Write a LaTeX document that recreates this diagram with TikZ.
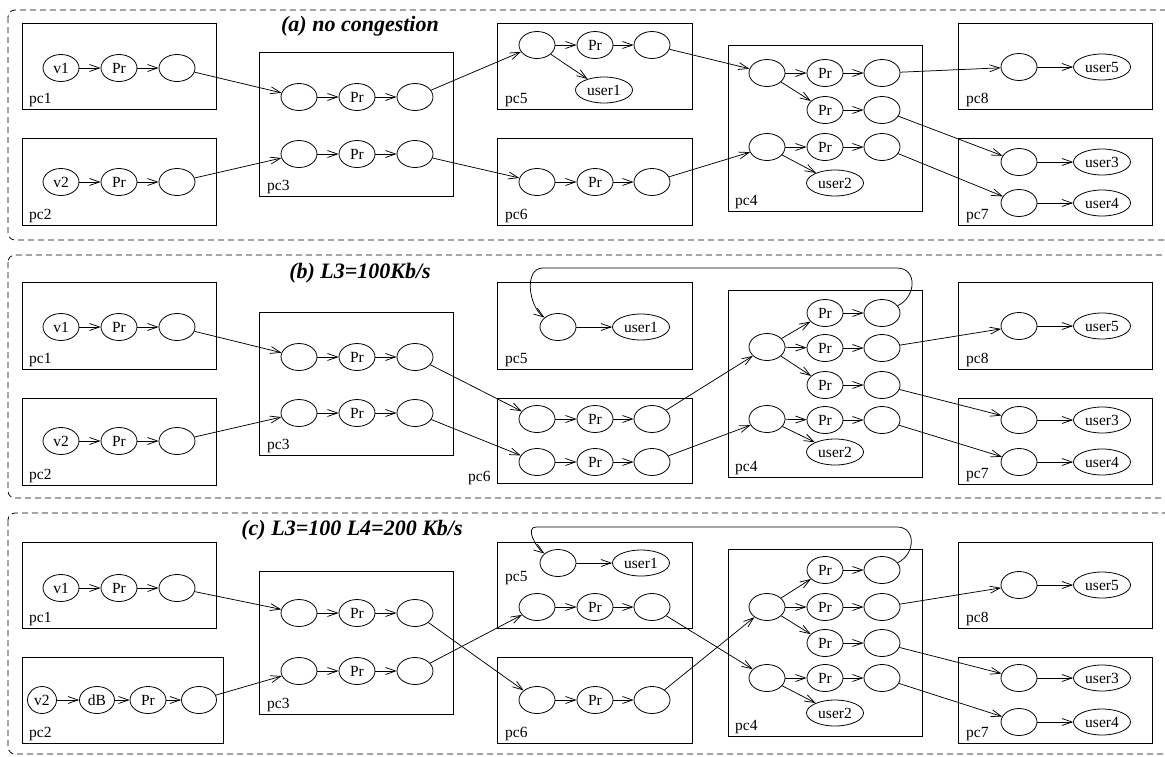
\documentclass[tikz,border=0pt]{standalone}
\usepackage{fontspec}
\setmainfont{Liberation Serif}
\usetikzlibrary{shapes.geometric,arrows.meta}
\begin{document}
\begin{tikzpicture}[x=1pt,y=-1pt,
  el/.style={draw,ellipse,line width=0.8pt,minimum width=36pt,minimum height=27pt,inner sep=0pt,font=\fontsize{15.5}{17}\selectfont},
  usr/.style={el,minimum width=57pt,minimum height=26pt},
  pcbox/.style={draw,line width=0.9pt},
  pclbl/.style={anchor=base west,inner sep=0pt,font=\fontsize{15.5}{17}\selectfont},
  arr/.style={-{Straight Barb[length=10pt,width=7pt]},line width=0.75pt},
  panel/.style={line width=0.8pt,dash pattern=on 6pt off 4pt,rounded corners=7pt},
  ttl/.style={anchor=base,inner sep=0pt,font=\fontsize{22}{24}\selectfont\bfseries\itshape}]
  \clip (0,0) rectangle (1165,756);
  % (a)
  \draw[panel] (8,10) rectangle (1180,240);
  \node[ttl] (ta) at (360,31) {(a) no congestion};
  \draw[pcbox] (22,23) rectangle (216,109);   \node[pclbl] (a1l) at (29,103) {pc1};
  \draw[pcbox] (22,138) rectangle (216,225);  \node[pclbl] (a2l) at (29,219) {pc2};
  \draw[pcbox] (259,52) rectangle (453,196);  \node[pclbl] (a3l) at (267,190) {pc3};
  \draw[pcbox] (497,23) rectangle (692,109);  \node[pclbl] (a5l) at (505,103) {pc5};
  \draw[pcbox] (497,138) rectangle (692,225); \node[pclbl] (a6l) at (505,219) {pc6};
  \draw[pcbox] (728,45) rectangle (922,211);  \node[pclbl] (a4l) at (735,205) {pc4};
  \draw[pcbox] (958,23) rectangle (1152,109); \node[pclbl] (a8l) at (966,103) {pc8};
  \draw[pcbox] (958,138) rectangle (1152,225);\node[pclbl] (a7l) at (966,219) {pc7};
  \node[el] (a1v) at (61,68) {v1};   \node[el] (a1p) at (119,68) {Pr};  \node[el] (a1o) at (177,68) {};
  \node[el] (a2v) at (61,182) {v2};  \node[el] (a2p) at (119,182) {Pr}; \node[el] (a2o) at (177,182) {};
  \node[el] (a3i1) at (299,97) {};   \node[el] (a3p1) at (357,97) {Pr}; \node[el] (a3o1) at (415,97) {};
  \node[el] (a3i2) at (299,154) {};  \node[el] (a3p2) at (357,154) {Pr};\node[el] (a3o2) at (415,154) {};
  \node[el] (a5i) at (537,45) {};    \node[el] (a5p) at (595,45) {Pr};  \node[el] (a5o) at (652,45) {};
  \node[usr] (a5u) at (604,90) {user1};
  \node[el] (a6i) at (537,182) {};   \node[el] (a6p) at (595,182) {Pr}; \node[el] (a6o) at (652,182) {};
  \node[el] (a4i1) at (767,73) {};   \node[el] (a4p1) at (825,73) {Pr}; \node[el] (a4o1) at (882,73) {};
  \node[el] (a4p2) at (825,110) {Pr};\node[el] (a4o2) at (882,110) {};
  \node[el] (a4i2) at (767,147) {};  \node[el] (a4p3) at (825,147) {Pr};\node[el] (a4o3) at (882,147) {};
  \node[usr] (a4u) at (835,183) {user2};
  \node[el] (a8i) at (1019,67) {};   \node[usr] (a8u) at (1102,67) {user5};
  \node[el] (a7i1) at (1019,162) {}; \node[usr] (a7u1) at (1102,162) {user3};
  \node[el] (a7i2) at (1019,203) {}; \node[usr] (a7u2) at (1102,203) {user4};
  \foreach \s/\t in {a1v/a1p,a1p/a1o,a2v/a2p,a2p/a2o,a1o/a3i1,a2o/a3i2,a3i1/a3p1,a3p1/a3o1,a3i2/a3p2,a3p2/a3o2,
    a3o1/a5i,a3o2/a6i,a5i/a5p,a5p/a5o,a5i/a5u,a6i/a6p,a6p/a6o,a5o/a4i1,a6o/a4i2,a4i1/a4p1,a4p1/a4o1,a4i1/a4p2,
    a4p2/a4o2,a4i2/a4p3,a4p3/a4o3,a4i2/a4u,a4o1/a8i,a8i/a8u,a4o2/a7i1,a4o3/a7i2,a7i1/a7u1,a7i2/a7u2}
    \draw[arr] (\s)--(\t);
  % (b)
  \draw[panel] (8,255) rectangle (1180,498);
  \node[ttl] (tb) at (360,278) {(b) L3=100Kb/s};
  \draw[pcbox] (22,282) rectangle (216,369);  \node[pclbl] (b1l) at (29,363) {pc1};
  \draw[pcbox] (22,398) rectangle (216,485);  \node[pclbl] (b2l) at (29,479) {pc2};
  \draw[pcbox] (259,312) rectangle (453,455); \node[pclbl] (b3l) at (267,449) {pc3};
  \draw[pcbox] (497,282) rectangle (692,369); \node[pclbl] (b5l) at (505,363) {pc5};
  \draw[pcbox] (497,398) rectangle (692,483); \node[pclbl] (b6l) at (468,481) {pc6};
  \draw[pcbox] (728,290) rectangle (922,477); \node[pclbl] (b4l) at (735,471) {pc4};
  \draw[pcbox] (958,282) rectangle (1152,369);\node[pclbl] (b8l) at (966,363) {pc8};
  \draw[pcbox] (958,398) rectangle (1152,484);\node[pclbl] (b7l) at (966,478) {pc7};
  \node[el] (b1v) at (61,327) {v1};  \node[el] (b1p) at (119,327) {Pr}; \node[el] (b1o) at (177,327) {};
  \node[el] (b2v) at (61,441) {v2};  \node[el] (b2p) at (119,441) {Pr}; \node[el] (b2o) at (177,441) {};
  \node[el] (b3i1) at (299,357) {};  \node[el] (b3p1) at (357,357) {Pr};\node[el] (b3o1) at (415,357) {};
  \node[el] (b3i2) at (299,413) {};  \node[el] (b3p2) at (357,413) {Pr};\node[el] (b3o2) at (415,413) {};
  \node[el] (b5i) at (558,327) {};   \node[usr] (b5u) at (641,327) {user1};
  \node[el] (b6i1) at (537,419) {};  \node[el] (b6p1) at (595,419) {Pr};\node[el] (b6o1) at (652,419) {};
  \node[el] (b6i2) at (537,462) {};  \node[el] (b6p2) at (595,462) {Pr};\node[el] (b6o2) at (652,462) {};
  \node[el] (b4i1) at (767,347) {};
  \node[el] (b4p1) at (825,313) {Pr};\node[el] (b4o1) at (882,313) {};
  \node[el] (b4p2) at (825,348) {Pr};\node[el] (b4o2) at (882,348) {};
  \node[el] (b4p3) at (825,385) {Pr};\node[el] (b4o3) at (882,385) {};
  \node[el] (b4i2) at (767,419) {};  \node[el] (b4p4) at (825,420) {Pr};\node[el] (b4o4) at (882,420) {};
  \node[usr] (b4u) at (835,452) {user2};
  \node[el] (b8i) at (1019,326) {};  \node[usr] (b8u) at (1102,326) {user5};
  \node[el] (b7i1) at (1019,420) {}; \node[usr] (b7u1) at (1102,420) {user3};
  \node[el] (b7i2) at (1019,462) {}; \node[usr] (b7u2) at (1102,462) {user4};
  \foreach \s/\t in {b1v/b1p,b1p/b1o,b2v/b2p,b2p/b2o,b1o/b3i1,b2o/b3i2,b3i1/b3p1,b3p1/b3o1,b3i2/b3p2,b3p2/b3o2,
    b3o1/b6i1,b3o2/b6i2,b6i1/b6p1,b6p1/b6o1,b6i2/b6p2,b6p2/b6o2,b6o1/b4i1,b6o2/b4i2,b4i1/b4p1,b4i1/b4p2,b4i1/b4p3,
    b4p1/b4o1,b4p2/b4o2,b4p3/b4o3,b4i2/b4p4,b4p4/b4o4,b4i2/b4u,b5i/b5u,b4o2/b8i,b4o3/b7i1,b4o4/b7i2,b8i/b8u,
    b7i1/b7u1,b7i2/b7u2}
    \draw[arr] (\s)--(\t);
  \coordinate (bR) at (897,268); \coordinate (bL) at (543,268);
  \draw[arr] (b4o1) to[out=25,in=0,looseness=1.4] (bR) -- (bL) to[out=180,in=145] (b5i);
  % (c)
  \draw[panel] (8,513) rectangle (1180,754);
  \node[ttl] (tc) at (352,535) {(c) L3=100 L4=200 Kb/s};
  \draw[pcbox] (22,542) rectangle (216,628);  \node[pclbl] (c1l) at (29,622) {pc1};
  \draw[pcbox] (22,657) rectangle (223,743);  \node[pclbl] (c2l) at (29,737) {pc2};
  \draw[pcbox] (259,571) rectangle (453,714); \node[pclbl] (c3l) at (267,708) {pc3};
  \draw[pcbox] (497,542) rectangle (692,628); \node[pclbl] (c5l) at (505,581) {pc5};
  \draw[pcbox] (497,657) rectangle (692,743); \node[pclbl] (c6l) at (505,737) {pc6};
  \draw[pcbox] (728,549) rectangle (922,736); \node[pclbl] (c4l) at (735,730) {pc4};
  \draw[pcbox] (958,542) rectangle (1152,628);\node[pclbl] (c8l) at (966,622) {pc8};
  \draw[pcbox] (958,657) rectangle (1152,743);\node[pclbl] (c7l) at (966,737) {pc7};
  \node[el] (c1v) at (61,588) {v1};  \node[el] (c1p) at (119,588) {Pr}; \node[el] (c1o) at (177,588) {};
  \node[el,minimum width=29pt] (c2v) at (42,700) {v2};
  \node[el,minimum width=35pt] (c2d) at (97,700) {dB};
  \node[el] (c2p) at (148,700) {Pr}; \node[el,minimum width=35pt] (c2o) at (199,700) {};
  \node[el] (c3i1) at (299,613) {};  \node[el] (c3p1) at (357,613) {Pr};\node[el] (c3o1) at (415,613) {};
  \node[el] (c3i2) at (299,671) {};  \node[el] (c3p2) at (357,671) {Pr};\node[el] (c3o2) at (415,671) {};
  \node[el] (c5t) at (558,563) {};   \node[usr] (c5u) at (641,563) {user1};
  \node[el] (c5i) at (537,607) {};   \node[el] (c5p) at (595,607) {Pr}; \node[el] (c5o) at (652,607) {};
  \node[el] (c6i) at (537,700) {};   \node[el] (c6p) at (595,700) {Pr}; \node[el] (c6o) at (652,700) {};
  \node[el] (c4i1) at (767,607) {};
  \node[el] (c4p1) at (825,570) {Pr};\node[el] (c4o1) at (882,570) {};
  \node[el] (c4p2) at (825,607) {Pr};\node[el] (c4o2) at (882,607) {};
  \node[el] (c4p3) at (825,643) {Pr};\node[el] (c4o3) at (882,643) {};
  \node[el] (c4i2) at (767,678) {};  \node[el] (c4p4) at (825,678) {Pr};\node[el] (c4o4) at (882,678) {};
  \node[usr] (c4u) at (835,713) {user2};
  \node[el] (c8i) at (1019,585) {};  \node[usr] (c8u) at (1102,585) {user5};
  \node[el] (c7i1) at (1019,678) {}; \node[usr] (c7u1) at (1102,678) {user3};
  \node[el] (c7i2) at (1019,722) {}; \node[usr] (c7u2) at (1102,722) {user4};
  \foreach \s/\t in {c1v/c1p,c1p/c1o,c2v/c2d,c2d/c2p,c2p/c2o,c1o/c3i1,c2o/c3i2,c3i1/c3p1,c3p1/c3o1,c3i2/c3p2,
    c3p2/c3o2,c3o1/c6i,c3o2/c5i,c5i/c5p,c5p/c5o,c5t/c5u,c6i/c6p,c6p/c6o,c5o/c4i2,c6o/c4i1,c4i1/c4p1,c4i1/c4p2,
    c4i1/c4p3,c4p1/c4o1,c4p2/c4o2,c4p3/c4o3,c4i2/c4p4,c4p4/c4o4,c4i2/c4u,c4o2/c8i,c4o3/c7i1,c4o4/c7i2,c8i/c8u,
    c7i1/c7u1,c7i2/c7u2}
    \draw[arr] (\s)--(\t);
  \coordinate (cR) at (897,527); \coordinate (cL) at (536,527);
  \draw[arr] (c4o1) to[out=25,in=0,looseness=1.4] (cR) -- (cL) to[out=180,in=145] (c5t);
\end{tikzpicture}
\end{document}
